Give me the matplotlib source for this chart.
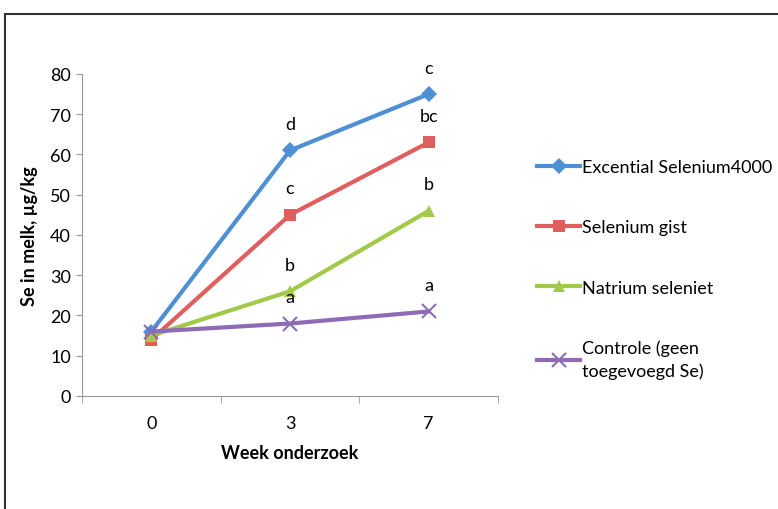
import matplotlib.pyplot as plt
from matplotlib.patches import Rectangle

plt.rcParams['font.family'] = ['Lato', 'DejaVu Sans']

# data
weeks = ['0', '3', '7']
series_names = ['Excential Selenium4000', 'Selenium gist', 'Natrium seleniet',
                'Controle (geen\ntoegevoegd Se)']
excential = [16, 61, 75]
gist = [14, 45, 63]
natrium = [15, 26, 46]
controle = [16, 18, 21]
# significance letters at week 3 and week 7
letters_w3 = ['d', 'c', 'b', 'a']
letters_w7 = ['c', 'bc', 'b', 'a']

values = [excential, gist, natrium, controle]
colors = ['#4f8fd4', '#e05f5e', '#a3c94a', '#8d6cb5']
markers = ['D', 's', '^', 'x']
msizes = [8, 9, 9, 10]

fig = plt.figure(figsize=(7.78, 5.10), dpi=100)
ax = fig.add_axes([0.1054, 0.2216, 0.5347, 0.6314])

x = list(range(len(weeks)))
for vals, name, c, m, ms in zip(values, series_names, colors, markers, msizes):
    ax.plot(x, vals, color=c, lw=3, marker=m, markersize=ms,
            markeredgewidth=1.5 if m == 'x' else 0, label=name)

for vals, l3, l7 in zip(values, letters_w3, letters_w7):
    for xi, lab in ((1, l3), (2, l7)):
        ax.annotate(lab, (xi, vals[xi]), xytext=(0, 19), textcoords='offset points',
                    ha='center', va='center', fontsize=13)

ax.set_xlim(-0.5, 2.5)
ax.set_ylim(0, 80)
ax.set_yticks(range(0, 81, 10))
ax.set_xticks(x)
ax.set_xticklabels(weeks)
ax.set_xticks([-0.5, 0.5, 1.5, 2.5], minor=True)
ax.tick_params(axis='x', which='major', length=0, pad=14, labelsize=13)
ax.tick_params(axis='x', which='minor', length=5, color='#999999', direction='out')
ax.tick_params(axis='y', length=4, color='#999999', pad=4, labelsize=13)
for s in ('top', 'right'):
    ax.spines[s].set_visible(False)
for s in ('left', 'bottom'):
    ax.spines[s].set_color('#999999')

ax.set_xlabel('Week onderzoek', fontsize=13, fontweight='bold', labelpad=9)
ax.set_ylabel('Se in melk, µg/kg', fontsize=13, fontweight='bold', labelpad=9)

leg = fig.legend(loc='upper left', bbox_to_anchor=(0.681, 0.70), frameon=False,
                 fontsize=13, handlelength=2.4, handletextpad=0.1, labelspacing=2.45,
                 borderaxespad=0)
for t in leg.get_texts():
    t.set_linespacing(1.45)

fig.patches.append(Rectangle((5 / 778, -0.2), 1.2, 0.2 + 1 - 15 / 510,
                             transform=fig.transFigure, fill=False,
                             edgecolor='#333333', lw=1.5))

fig.savefig('out.png', dpi=100)
